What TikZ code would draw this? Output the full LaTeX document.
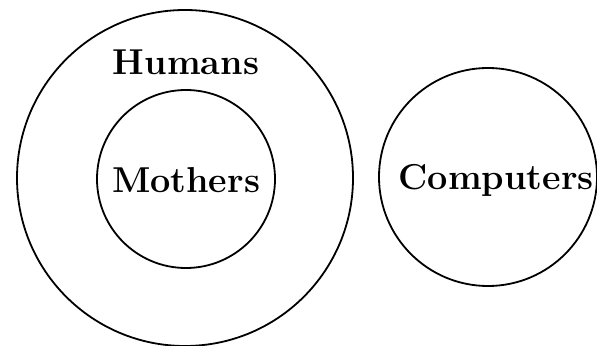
\documentclass[tikz,border=0pt]{standalone}
\usepackage{tikz}

\begin{document}
\begin{tikzpicture}[
  x=0.5pt,y=-0.5pt,
  set/.style={draw=black,line width=0.9pt,circle,inner sep=0pt},
  lbl/.style={font=\fontsize{18}{21}\selectfont\bfseries,inner sep=0pt}]
\useasboundingbox (0,0) rectangle (597,346);
\node[set,minimum size=168pt] (humanset) at (185,178) {};
\node[set,minimum size=89pt] (motherset) at (186,179) {};
\node[set,minimum size=109pt] (compset) at (488,177) {};
\node[lbl] (humans) at (186,62) {Humans};
\node[lbl] (mothers) at (186,180) {Mothers};
\node[lbl] (computers) at (496,180) {Computers};
\end{tikzpicture}
\end{document}
